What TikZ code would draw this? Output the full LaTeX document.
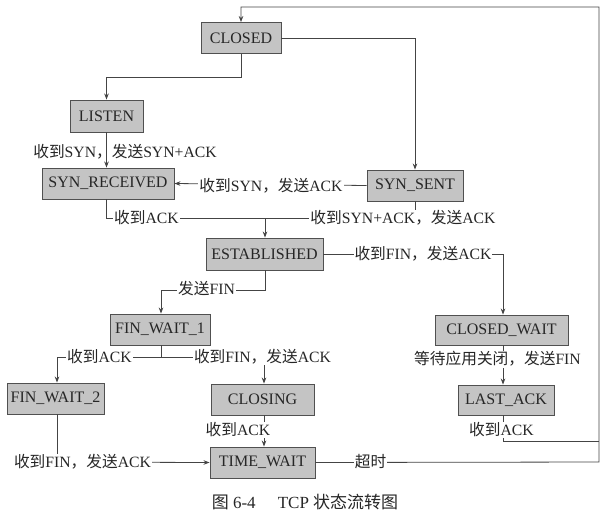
\documentclass[tikz,border=0pt]{standalone}
\usepackage{fontspec}
\setmainfont{Liberation Serif}
\newfontfamily\cjkfont{Noto Sans CJK SC}
\usetikzlibrary{arrows.meta}
\newcommand\zh[1]{{\cjkfont #1}}
\definecolor{boxfill}{HTML}{C4C4C4}
\definecolor{boxline}{HTML}{505050}
\definecolor{lncol}{HTML}{444444}
\definecolor{txt}{HTML}{262626}
\begin{document}
\begin{tikzpicture}[x=1pt,y=-1pt,
  state/.style={draw=boxline, fill=boxfill, line width=0.9pt, inner sep=0pt,
    font=\fontsize{16}{16}\selectfont, text=txt},
  ln/.style={draw=lncol, line width=0.8pt},
  arr/.style={ln, -{Stealth[length=6pt,width=4.5pt]}},
  lbl/.style={font=\fontsize{15.7}{15.7}\selectfont, text=txt, inner sep=1pt},
  wl/.style={lbl, fill=white}]
\useasboundingbox (0,0) rectangle (609,517);
\fill[white] (0,0) rectangle (609,517);

% states
\node[state, minimum width=80pt,  minimum height=31pt] (closed)    at (241,38)    {CLOSED};
\node[state, minimum width=73pt,  minimum height=32pt] (listen)    at (106.5,116) {LISTEN};
\node[state, minimum width=132pt, minimum height=31pt] (synrcvd)   at (108,183.5) {SYN\_RECEIVED};
\node[state, minimum width=96pt,  minimum height=31pt] (synsent)   at (415,185.5) {SYN\_SENT};
\node[state, minimum width=117pt, minimum height=32pt] (estab)     at (264.5,254) {ESTABLISHED};
\node[state, minimum width=100pt, minimum height=31pt] (fwa)       at (160,329.5) {FIN\_WAIT\_1};
\node[state, minimum width=133pt, minimum height=30pt] (closewait) at (501.5,330) {CLOSED\_WAIT};
\node[state, minimum width=97pt,  minimum height=31pt] (fwb)       at (55.5,398.5) {FIN\_WAIT\_2};
\node[state, minimum width=103pt, minimum height=31pt] (closing)   at (262.5,399.5) {CLOSING};
\node[state, minimum width=96pt,  minimum height=30pt] (lastack)   at (506,400)   {LAST\_ACK};
\node[state, minimum width=105pt, minimum height=31pt] (timewait)  at (262.5,462.5) {TIME\_WAIT};

% waypoints
\coordinate (c1) at (241,77);
\coordinate (j0) at (106.5,218);
\coordinate (j1) at (265,218);
\coordinate (j2) at (415,218);
\coordinate (e1) at (265,290);
\coordinate (e2) at (161,290);
\coordinate (f0) at (161,357);
\coordinate (f1) at (57,357);
\coordinate (f2) at (264,357);
\coordinate (g1) at (57,462);
\coordinate (k1) at (503,254);
\coordinate (t1) at (599,462);
\coordinate (t2) at (599,7);
\coordinate (t3) at (241,7);
\coordinate (la1) at (503,441);
\coordinate (la2) at (599,441);

% connectors
\draw[arr] (closed.south) -- (c1) -| (listen.north);
\draw[arr] (closed.east) -| (synsent.north);
\draw[arr] (listen.south) -- (listen.south |- synrcvd.north);
\draw[arr] (synsent.west) -- (synrcvd.east);
\draw[ln] (listen.south |- synrcvd.south) -- (j0) -- (j2) -- (synsent.south);
\draw[arr] (j1) -- (j1 |- estab.north);
\draw[ln] (e1 |- estab.south) -- (e1) -- (e2);
\draw[arr] (e2) -- (e2 |- fwa.north);
\draw[ln] (estab.east) -- (k1);
\draw[arr] (k1) -- (k1 |- closewait.north);
\draw[ln] (f0 |- fwa.south) -- (f0) -- (f1);
\draw[arr] (f1) -- (f1 |- fwb.north);
\draw[ln] (f0) -- (f2);
\draw[arr] (f2) -- (f2 |- closing.north);
\draw[arr] (f2 |- closing.south) -- (f2 |- timewait.north);
\draw[ln] (g1 |- fwb.south) -- (g1);
\draw[arr] (g1) -- (timewait.west);
\draw[arr] (timewait.east) -- (t1) -- (t2) -- (t3) -- (closed.north);
\draw[arr] (k1 |- closewait.south) -- (k1 |- lastack.north);
\draw[ln] (la1 |- lastack.south) -- (la1) -- (la2);

% labels
\node[lbl] (l1) at (125,152) {\zh{收到}SYN\zh{，发送}SYN+ACK};
\node[wl] (l2) at (271,185.5) {\zh{收到}SYN\zh{，发送}ACK};
\node[wl] (l3) at (146.5,218) {\zh{收到}ACK};
\node[wl] (l4) at (403,218) {\zh{收到}SYN+ACK\zh{，发送}ACK};
\node[wl] (l5) at (206.5,289) {\zh{发送}FIN};
\node[wl] (l6) at (423,254) {\zh{收到}FIN\zh{，发送}ACK};
\node[wl] (l7) at (99.5,357) {\zh{收到}ACK};
\node[wl] (l8) at (262.5,357) {\zh{收到}FIN\zh{，发送}ACK};
\node[wl] (l9) at (238,430) {\zh{收到}ACK};
\node[wl] (l10) at (82.5,462) {\zh{收到}FIN\zh{，发送}ACK};
\node[wl] (l11) at (370.5,462) {\zh{超时}};
\node[wl] (l12) at (497.5,359) {\zh{等待应用关闭，发送}FIN};
\node[wl] (l13) at (501.5,430) {\zh{收到}ACK};

% caption
\node[lbl, font=\fontsize{17}{17}\selectfont] (cap) at (305,502) {\zh{图} 6-4\hspace{1.3em}TCP \zh{状态流转图}};
\end{tikzpicture}
\end{document}
